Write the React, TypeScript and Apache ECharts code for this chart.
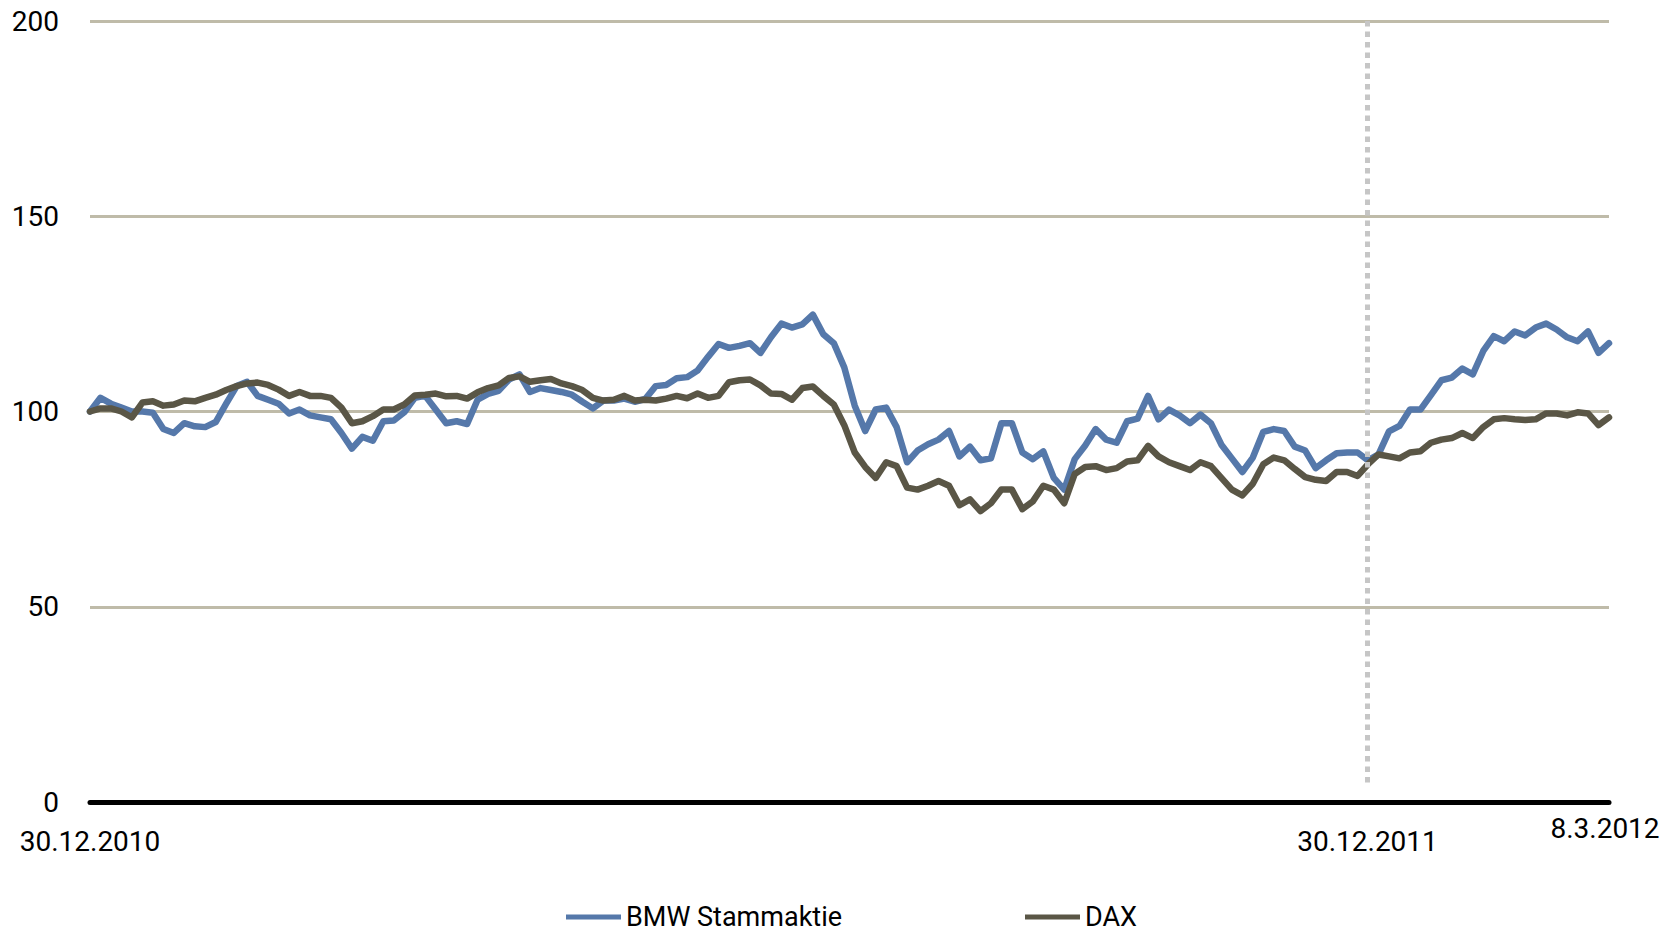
import React, { useEffect, useRef } from "react";
import * as echarts from "echarts";

const SERIES_NAMES = ["BMW Stammaktie", "DAX"];
const Y_TICKS = [0, 50, 100, 150, 200];
const START_DATE = "2010-12-30";
const YEAR_END_DATE = "2011-12-30";
const END_DATE = "2012-03-08";

const BMW = [
  100, 103.5, 102, 101, 100, 100, 99.7, 95.5, 94.5, 97,
  96.2, 96, 97.3, 102, 106.5, 107.6, 104, 103, 102, 99.5,
  100.5, 99, 98.5, 98, 94.5, 90.5, 93.5, 92.5, 97.5, 97.7,
  99.8, 103.5, 104, 100.5, 97, 97.5, 96.8, 103, 104.5, 105.3,
  108.2, 109.5, 105, 106, 105.5, 105, 104.3, 102.5, 100.8, 102.8,
  102.8, 103.3, 102.5, 103.2, 106.5, 106.8, 108.5, 108.8, 110.5, 114,
  117.3, 116.3, 116.8, 117.5, 115, 119, 122.5, 121.5, 122.3, 124.8,
  119.8, 117.5, 111.3, 101.5, 95, 100.5, 101, 96, 87, 90,
  91.6, 92.8, 95, 88.5, 91, 87.5, 88, 97, 97, 89.5,
  87.8, 89.8, 83, 80, 87.8, 91.3, 95.5, 92.8, 92, 97.5,
  98.2, 104, 98, 100.5, 99, 97, 99.2, 97, 91.5, 88,
  84.5, 88.2, 94.8, 95.5, 95, 91, 90, 85.5, 87.5, 89.3,
  89.5, 89.5, 87.5, 89, 94.9, 96.3, 100.5, 100.5, 104.2, 108,
  108.7, 111, 109.5, 115.5, 119.3, 118, 120.5, 119.5, 121.5, 122.5,
  121, 119, 118, 120.5, 115, 117.5,
];

const DAX = [
  100, 100.8, 100.8, 100, 98.5, 102.3, 102.6, 101.5, 101.8, 102.8,
  102.6, 103.5, 104.3, 105.5, 106.5, 107.2, 107.4, 106.8, 105.6, 104,
  105, 104, 104, 103.5, 101, 97, 97.5, 98.8, 100.5, 100.5,
  101.8, 104.1, 104.3, 104.6, 103.9, 104, 103.3, 104.9, 106, 106.7,
  108.6, 109, 107.6, 108, 108.3, 107.2, 106.5, 105.5, 103.5, 102.8,
  103, 104, 102.8, 103, 102.8, 103.3, 104, 103.4, 104.6, 103.5,
  104, 107.5, 108, 108.2, 106.7, 104.6, 104.5, 103, 106, 106.4,
  104, 101.8, 96.5, 89.5, 85.8, 83, 87, 86, 80.5, 80,
  81, 82.2, 81, 76, 77.5, 74.5, 76.5, 80, 80, 75,
  77, 81, 80, 76.5, 84, 85.8, 86, 85, 85.5, 87.2,
  87.5, 91.2, 88.5, 87, 86, 85, 87, 86, 83, 80,
  78.5, 81.5, 86.5, 88.2, 87.5, 85.3, 83.2, 82.5, 82.2, 84.5,
  84.5, 83.5, 86.5, 89, 88.5, 88, 89.5, 89.8, 92, 92.8,
  93.2, 94.5, 93.2, 96, 98, 98.3, 98, 97.8, 98, 99.5,
  99.5, 99, 99.8, 99.5, 96.5, 98.5,
];

const BLUE = "#5578aa";
const DARK = "#5a5646";
const FONT = "Roboto";

function ts(d: string) {
  const [y, m, dd] = d.split("-").map(Number);
  return Date.UTC(y, m - 1, dd);
}

function fmt(t: number) {
  const d = new Date(t);
  return `${d.getUTCDate()}.${d.getUTCMonth() + 1}.${d.getUTCFullYear()}`;
}

export default function App() {
  const ref = useRef<HTMLDivElement>(null);

  useEffect(() => {
    if (!ref.current) return;
    const chart = echarts.init(ref.current, undefined, { renderer: "svg" });
    const start = ts(START_DATE);
    const yearEnd = ts(YEAR_END_DATE);
    const end = ts(END_DATE);
    const n = BMW.length;
    const dates = BMW.map((_, i) => start + (i * (end - start)) / (n - 1));

    const legendBase = {
      top: 903,
      icon: "rect",
      itemWidth: 55,
      itemHeight: 5,
      padding: 0,
      textStyle: { fontFamily: FONT, fontSize: 27, color: "#000", lineHeight: 28 },
    };

    chart.setOption({
      animation: false,
      backgroundColor: "#ffffff",
      textStyle: { fontFamily: FONT },
      grid: { left: 90, right: 71, top: 21, bottom: 131, containLabel: false },
      legend: [
        { ...legendBase, data: [SERIES_NAMES[0]], left: 566 },
        { ...legendBase, data: [SERIES_NAMES[1]], left: 1025 },
      ],
      xAxis: {
        type: "time",
        min: start,
        max: end,
        axisLine: { show: true, lineStyle: { color: "#000", width: 5 } },
        axisTick: { show: false },
        splitLine: { show: false },
        axisLabel: { show: false },
      },
      yAxis: {
        type: "value",
        min: Y_TICKS[0],
        max: Y_TICKS[Y_TICKS.length - 1],
        interval: 50,
        axisLine: { show: false },
        axisTick: { show: false },
        axisLabel: {
          fontFamily: FONT,
          fontSize: 28,
          color: "#000",
          margin: 31,
        },
        splitLine: { lineStyle: { color: "#bfbba9", width: 3 } },
      },
      series: [
        {
          name: SERIES_NAMES[0],
          type: "line",
          data: dates.map((d, i) => [d, BMW[i]]),
          showSymbol: false,
          symbol: "none",
          color: BLUE,
          lineStyle: { color: BLUE, width: 6.5, join: "round", cap: "round" },
          markLine: {
            silent: true,
            symbol: "none",
            label: { show: false },
            lineStyle: { color: "#c6c6c6", width: 5, type: [5.5, 5] },
            data: [[{ coord: [yearEnd, 200] }, { coord: [yearEnd, 5] }]],
          },
        },
        {
          name: SERIES_NAMES[1],
          type: "line",
          data: dates.map((d, i) => [d, DAX[i]]),
          showSymbol: false,
          symbol: "none",
          color: DARK,
          lineStyle: { color: DARK, width: 6.5, join: "round", cap: "round" },
        },
      ],
    });

    const labelAt = (t: number, dy: number, dx: number) => {
      const p = chart.convertToPixel({ gridIndex: 0 }, [t, 0]) as number[];
      return {
        type: "text",
        x: p[0] + dx,
        y: p[1] + dy,
        style: {
          text: fmt(t),
          fontFamily: FONT,
          fontSize: 28,
          fill: "#000",
          align: "center",
          verticalAlign: "middle",
        },
      };
    };

    chart.setOption({
      graphic: [labelAt(start, 39, 0), labelAt(yearEnd, 39, 0), labelAt(end, 26, -4)],
    });

    return () => chart.dispose();
  }, []);

  return (
    <div
      ref={ref}
      style={{ position: "fixed", left: 0, top: 0, width: 1680, height: 933 }}
    />
  );
}
